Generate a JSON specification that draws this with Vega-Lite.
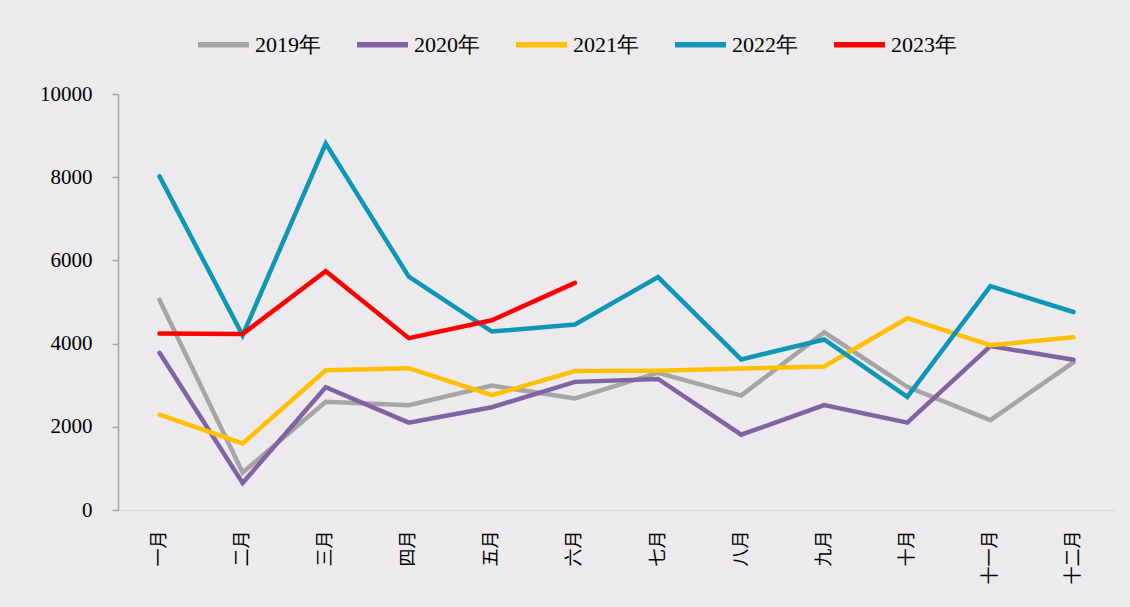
{
  "$schema": "https://vega.github.io/schema/vega-lite/v6.json",
  "autosize": "none",
  "width": 997,
  "height": 416,
  "padding": {"left": 118, "top": 94, "right": 15, "bottom": 97},
  "background": "#ECEAEC",
  "config": {
    "view": {"stroke": null, "fill": "#ECEAEC"},
    "font": "Liberation Serif"
  },
  "data": {
    "values": [
      {"month": "一月", "series": "2019年", "value": 5050},
      {"month": "二月", "series": "2019年", "value": 900},
      {"month": "三月", "series": "2019年", "value": 2600},
      {"month": "四月", "series": "2019年", "value": 2520},
      {"month": "五月", "series": "2019年", "value": 2990},
      {"month": "六月", "series": "2019年", "value": 2680},
      {"month": "七月", "series": "2019年", "value": 3300},
      {"month": "八月", "series": "2019年", "value": 2750},
      {"month": "九月", "series": "2019年", "value": 4270},
      {"month": "十月", "series": "2019年", "value": 2960},
      {"month": "十一月", "series": "2019年", "value": 2160},
      {"month": "十二月", "series": "2019年", "value": 3550},
      {"month": "一月", "series": "2020年", "value": 3780},
      {"month": "二月", "series": "2020年", "value": 650},
      {"month": "三月", "series": "2020年", "value": 2950},
      {"month": "四月", "series": "2020年", "value": 2100},
      {"month": "五月", "series": "2020年", "value": 2470},
      {"month": "六月", "series": "2020年", "value": 3080},
      {"month": "七月", "series": "2020年", "value": 3150},
      {"month": "八月", "series": "2020年", "value": 1810},
      {"month": "九月", "series": "2020年", "value": 2520},
      {"month": "十月", "series": "2020年", "value": 2100},
      {"month": "十一月", "series": "2020年", "value": 3940},
      {"month": "十二月", "series": "2020年", "value": 3610},
      {"month": "一月", "series": "2021年", "value": 2290},
      {"month": "二月", "series": "2021年", "value": 1600},
      {"month": "三月", "series": "2021年", "value": 3360},
      {"month": "四月", "series": "2021年", "value": 3410},
      {"month": "五月", "series": "2021年", "value": 2760},
      {"month": "六月", "series": "2021年", "value": 3340},
      {"month": "七月", "series": "2021年", "value": 3350},
      {"month": "八月", "series": "2021年", "value": 3400},
      {"month": "九月", "series": "2021年", "value": 3450},
      {"month": "十月", "series": "2021年", "value": 4610},
      {"month": "十一月", "series": "2021年", "value": 3960},
      {"month": "十二月", "series": "2021年", "value": 4150},
      {"month": "一月", "series": "2022年", "value": 8020},
      {"month": "二月", "series": "2022年", "value": 4200},
      {"month": "三月", "series": "2022年", "value": 8810},
      {"month": "四月", "series": "2022年", "value": 5610},
      {"month": "五月", "series": "2022年", "value": 4290},
      {"month": "六月", "series": "2022年", "value": 4460},
      {"month": "七月", "series": "2022年", "value": 5600},
      {"month": "八月", "series": "2022年", "value": 3620},
      {"month": "九月", "series": "2022年", "value": 4100},
      {"month": "十月", "series": "2022年", "value": 2720},
      {"month": "十一月", "series": "2022年", "value": 5380},
      {"month": "十二月", "series": "2022年", "value": 4760},
      {"month": "一月", "series": "2023年", "value": 4240},
      {"month": "二月", "series": "2023年", "value": 4230},
      {"month": "三月", "series": "2023年", "value": 5740},
      {"month": "四月", "series": "2023年", "value": 4130},
      {"month": "五月", "series": "2023年", "value": 4560},
      {"month": "六月", "series": "2023年", "value": 5460}
    ]
  },
  "mark": {"type": "line", "strokeWidth": 4.5, "strokeCap": "round", "strokeJoin": "miter"},
  "encoding": {
    "x": {
      "field": "month",
      "type": "ordinal",
      "sort": ["一月", "二月", "三月", "四月", "五月", "六月", "七月", "八月", "九月", "十月", "十一月", "十二月"],
      "scale": {"type": "point", "padding": 0.5},
      "axis": {
        "title": null,
        "labelAngle": -90,
        "labelAlign": "right",
        "labelBaseline": "middle",
        "labelFont": "Noto Sans CJK SC",
        "labelFontSize": 18,
        "labelColor": "#000000",
        "labelPadding": 20,
        "ticks": false,
        "domainColor": "#D9D9D9",
        "domainWidth": 1.5,
        "grid": false
      }
    },
    "y": {
      "field": "value",
      "type": "quantitative",
      "scale": {"domain": [0, 10000], "nice": false},
      "axis": {
        "title": null,
        "values": [0, 2000, 4000, 6000, 8000, 10000],
        "format": "d",
        "grid": false,
        "labelFont": "Liberation Serif",
        "labelFontSize": 21,
        "labelColor": "#000000",
        "labelPadding": 20,
        "tickSize": 6,
        "tickColor": "#A6A6A6",
        "domainColor": "#A6A6A6",
        "domainWidth": 1.5,
        "tickWidth": 1.5
      }
    },
    "color": {
      "field": "series",
      "type": "nominal",
      "scale": {
        "domain": ["2019年", "2020年", "2021年", "2022年", "2023年"],
        "range": ["#A5A5A5", "#8064A2", "#FFC000", "#0E96B6", "#FF0000"]
      },
      "legend": {
        "title": null,
        "orient": "none",
        "direction": "horizontal",
        "legendX": 77,
        "legendY": -78,
        "symbolType": "stroke",
        "symbolSize": 2600,
        "symbolStrokeWidth": 5.5,
        "labelFont": "Liberation Serif",
        "labelFontSize": 22,
        "labelColor": "#000000",
        "columnPadding": 25,
        "labelOffset": 3
      }
    }
  }
}
